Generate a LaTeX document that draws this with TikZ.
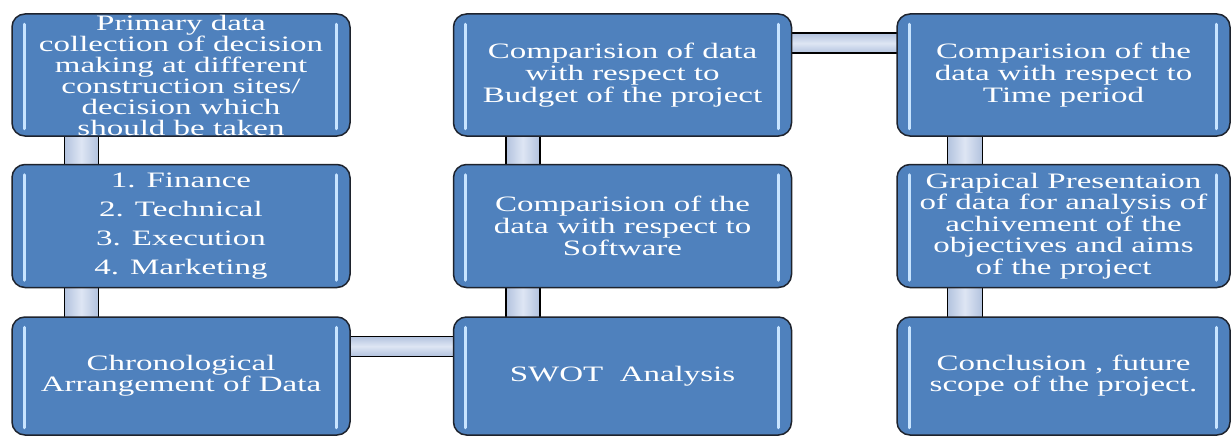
\documentclass[tikz,border=0pt]{standalone}
\usepackage{fontspec}
\newfontfamily\boxfont[FakeStretch=1.5]{Liberation Serif}
\usetikzlibrary{calc,backgrounds}
\definecolor{boxblue}{RGB}{79,129,189}
\definecolor{boxedge}{RGB}{30,35,45}
\definecolor{barblue}{RGB}{200,228,255}
\definecolor{connfill}{RGB}{178,194,222}
\definecolor{connlight}{RGB}{222,230,244}
\begin{document}
\begin{tikzpicture}[x=1pt,y=-1pt,
  stepbox/.style={rectangle, rounded corners=13pt, draw=boxedge, line width=1.5pt,
    fill=boxblue, minimum width=338pt, minimum height=122pt, inner sep=0pt,
    text=white, align=center, font=\boxfont\fontsize{22}{22}\selectfont},
  rightbox/.style={stepbox, minimum width=333pt},
  bar/.style={draw=barblue, line width=3pt, line cap=round},
  vconn/.style={left color=connfill, right color=connfill, middle color=connlight},
  hconn/.style={top color=connfill, bottom color=connfill, middle color=connlight},
  connedge/.style={draw=black, line width=1.5pt}
]
% boxes
\node[stepbox, font=\boxfont\fontsize{22}{21}\selectfont] (A) at (181,75) {Primary data\\collection of decision\\making at different\\construction sites/\\decision which\\should be taken};
\node[stepbox, minimum height=123pt, font=\boxfont\fontsize{22}{29}\selectfont] (B) at (181,226) {1. Finance\\2. Technical\\3. Execution\\4. Marketing};
\node[stepbox, minimum height=118pt, font=\boxfont\fontsize{22}{21}\selectfont] (C) at (181,376) {Chronological\\Arrangement of Data};
\node[stepbox] (D) at (622.5,75) {Comparision of data\\with respect to\\Budget of the project};
\node[stepbox, minimum height=123pt] (E) at (622.5,226) {Comparision of the\\data with respect to\\Software};
\node[stepbox, minimum height=118pt] (F) at (622.5,376) {SWOT\ \ Analysis};
\node[rightbox] (G) at (1063.5,75) {Comparision of the\\data with respect to\\Time period};
\node[rightbox, minimum height=123pt, font=\boxfont\fontsize{22}{21.5}\selectfont] (H) at (1063.5,226) {Grapical Presentaion\\of data for analysis of\\achivement of the\\objectives and aims\\of the project};
\node[rightbox, minimum height=118pt, font=\boxfont\fontsize{22}{21}\selectfont] (I) at (1063.5,376) {Conclusion , future\\scope of the project.};

% highlight bars
\foreach \n in {A,B,C,D,E,F,G,H,I}{
  \draw[bar] ($(\n.north west)+(13,11)$) -- ($(\n.south west)+(13,-8)$);
  \draw[bar] ($(\n.north east)+(-14,11)$) -- ($(\n.south east)+(-14,-8)$);
}

\begin{scope}[on background layer]
\fill[white] (0,0) rectangle (1231,436);
% vertical connectors
\foreach \u/\l/\a/\b in {A/B/53/87, B/C/53/87, D/E/53/87, E/F/53/87, G/H/51/86, H/I/51/86}{
  \shade[vconn] ($(\u.south west)+(\a,-3)$) rectangle ($(\l.north west)+(\b,3)$);
  \draw[connedge] ($(\u.south west)+(\a,-3)$) -- ($(\l.north west)+(\a,3)$);
  \draw[connedge] ($(\u.south west)+(\b,-3)$) -- ($(\l.north west)+(\b,3)$);
}
% horizontal connectors
\foreach \u/\l in {C/F, D/G}{
  \shade[hconn] ($(\u.north east)+(-3,20)$) rectangle ($(\l.north west)+(3,40)$);
  \draw[connedge] ($(\u.north east)+(-3,20)$) -- ($(\l.north west)+(3,20)$);
  \draw[connedge] ($(\u.north east)+(-3,40)$) -- ($(\l.north west)+(3,40)$);
}
\end{scope}
\useasboundingbox (0,0) rectangle (1231,436);
\end{tikzpicture}
\end{document}
